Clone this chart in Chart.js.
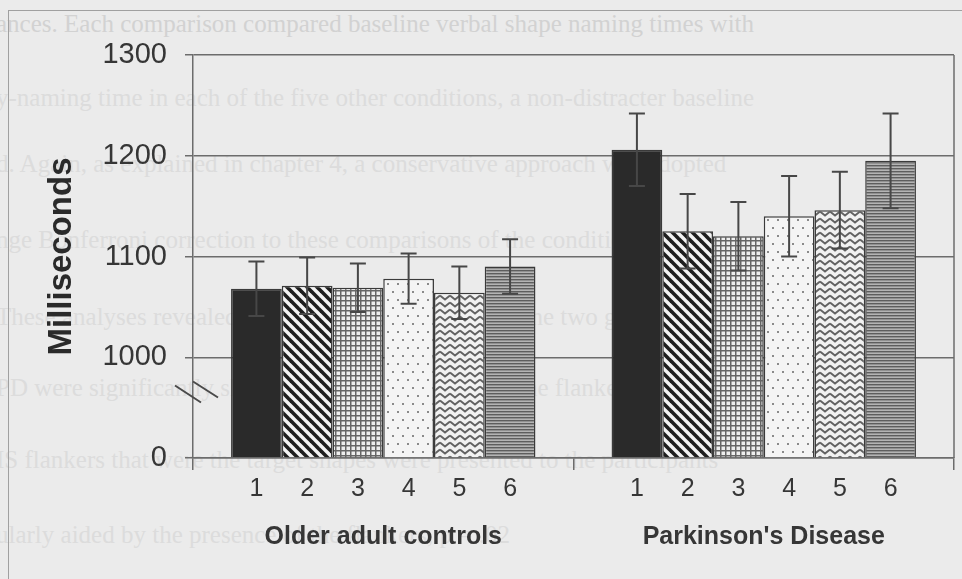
<!DOCTYPE html>
<html>
<head>
<meta charset="utf-8">
<script src="https://cdn.jsdelivr.net/npm/chart.js@4.4.1/dist/chart.umd.min.js"></script>
<style>
  html, body { margin: 0; padding: 0; background: #ebebeb; }
  #wrap { position: relative; width: 962px; height: 579px; overflow: hidden; background: #ebebeb; }
  #bleed { position: absolute; left: 0; top: 0; font-family: "Liberation Serif", serif; font-size: 25px; color: #dcdcdc; white-space: nowrap; }
  #bleed div { position: absolute; left: -4px; }
  #frame { position: absolute; left: 8px; top: 10px; width: 1200px; height: 1200px; border-left: 1px solid #a0a0a0; border-top: 1px solid #a0a0a0; }
  #chart { position: absolute; left: 0; top: 0; }
</style>
</head>
<body>
<div id="wrap">
  <div id="bleed">
    <div style="top:10px;color:#d2d2d2">ances. Each comparison compared baseline verbal shape naming times with</div>
    <div style="top:84px">y-naming time in each of the five other conditions, a non-distracter baseline</div>
    <div style="top:150px">d. Again, as explained in chapter 4, a conservative approach was adopted</div>
    <div style="top:226px">nge Bonferroni correction to these comparisons of the condition means</div>
    <div style="top:303px">These analyses revealed that the verbal responses of the two groups</div>
    <div style="top:374px">PD were significantly slowed relative to baseline in the flanker conditions</div>
    <div style="top:446px">IS flankers that were the target shapes were presented to the participants</div>
    <div style="top:521px">ularly aided by the presence of the flankers, p = .02</div>
  </div>
  <div id="frame"></div>
  <canvas id="chart" width="962" height="579"></canvas>
</div>
<script>
// Data
const groups = ["Older adult controls", "Parkinson's Disease"];
const conditions = ["1", "2", "3", "4", "5", "6"];
const controlMeans = [1068, 1071, 1069, 1078, 1064, 1090];
const controlErr = [27, 28, 24, 25, 26, 27];
const pdMeans = [1206, 1125, 1120, 1140, 1146, 1195];
const pdErr = [36, 37, 34, 40, 38, 47];
const yTickValues = [900, 1000, 1100, 1200, 1300];
const yTickLabels = ["0", "1000", "1100", "1200", "1300"];

const axisGrey = "#6c6c6c";
const textGrey = "#363636";

// Fill patterns for the six conditions
function makePattern(w, h, draw) {
  const c = document.createElement("canvas");
  c.width = w;
  c.height = h;
  const g = c.getContext("2d");
  draw(g, w, h);
  return g.createPattern(c, "repeat");
}

const patterns = [
  "#2a2a2a",
  makePattern(10, 10, (g, w, h) => {
    g.fillStyle = "#f3f3f3";
    g.fillRect(0, 0, w, h);
    g.strokeStyle = "#1e1e1e";
    g.lineWidth = 3.6;
    [-w, 0, w].forEach((o) => {
      g.beginPath();
      g.moveTo(o - 2, -2);
      g.lineTo(o + w + 2, h + 2);
      g.stroke();
    });
  }),
  makePattern(5, 5, (g, w, h) => {
    g.fillStyle = "#eeeeee";
    g.fillRect(0, 0, w, h);
    g.fillStyle = "#666666";
    g.fillRect(0, 0, w, 1.5);
    g.fillRect(0, 0, 1.5, h);
  }),
  makePattern(10, 16, (g, w, h) => {
    g.fillStyle = "#f4f4f4";
    g.fillRect(0, 0, w, h);
    g.fillStyle = "#8a8a8a";
    g.fillRect(2, 3, 2, 2);
    g.fillRect(7, 11, 2, 2);
  }),
  makePattern(10, 7, (g, w, h) => {
    g.fillStyle = "#f1f1f1";
    g.fillRect(0, 0, w, h);
    g.strokeStyle = "#626262";
    g.lineWidth = 1.9;
    g.beginPath();
    g.moveTo(0, 1.5);
    g.lineTo(5, 5.5);
    g.lineTo(10, 1.5);
    g.stroke();
  }),
  makePattern(4, 3, (g, w, h) => {
    g.fillStyle = "#b4b4b4";
    g.fillRect(0, 0, w, h);
    g.fillStyle = "#5e5e5e";
    g.fillRect(0, 0, w, 1.4);
  }),
];

const datasets = conditions.map((label, i) => ({
  label: label,
  data: [controlMeans[i], pdMeans[i]],
  errors: [controlErr[i], pdErr[i]],
  backgroundColor: patterns[i],
  borderColor: "#3a3a3a",
  borderWidth: 1.5,
  borderSkipped: "start",
  base: 900,
  categoryPercentage: 0.8,
  barPercentage: 1.0,
}));

// Error bars, condition numbers, right border and axis break
const extras = {
  id: "extras",
  afterDatasetsDraw(chart) {
    const { ctx, chartArea } = chart;
    const y = chart.scales.y;
    ctx.save();
    ctx.strokeStyle = "#474747";
    ctx.lineWidth = 2;
    chart.data.datasets.forEach((ds, i) => {
      chart.getDatasetMeta(i).data.forEach((bar, j) => {
        const top = y.getPixelForValue(ds.data[j] + ds.errors[j]);
        const bot = y.getPixelForValue(ds.data[j] - ds.errors[j]);
        ctx.beginPath();
        ctx.moveTo(bar.x, top);
        ctx.lineTo(bar.x, bot);
        ctx.moveTo(bar.x - 8, top);
        ctx.lineTo(bar.x + 8, top);
        ctx.moveTo(bar.x - 8, bot);
        ctx.lineTo(bar.x + 8, bot);
        ctx.stroke();
      });
    });

    // right border of the plot
    ctx.strokeStyle = axisGrey;
    ctx.lineWidth = 1.5;
    ctx.beginPath();
    ctx.moveTo(chartArea.right, chartArea.top);
    ctx.lineTo(chartArea.right, chartArea.bottom);
    ctx.stroke();

    // axis break marks
    const bx = chartArea.left;
    const by = y.getPixelForValue(966);
    ctx.strokeStyle = "#4a4a4a";
    ctx.lineWidth = 2;
    ctx.beginPath();
    ctx.moveTo(bx - 18, by - 6);
    ctx.lineTo(bx + 8, by + 11);
    ctx.moveTo(bx, by - 10);
    ctx.lineTo(bx + 25, by + 6);
    ctx.stroke();

    // condition numbers under each bar
    ctx.fillStyle = textGrey;
    ctx.font = "25px 'Liberation Sans', Arial, sans-serif";
    ctx.textAlign = "center";
    ctx.textBaseline = "middle";
    chart.data.datasets.forEach((ds, i) => {
      chart.getDatasetMeta(i).data.forEach((bar) => {
        ctx.fillText(ds.label, bar.x, chartArea.bottom + 31);
      });
    });
    ctx.restore();
  },
};

const ctx = document.getElementById("chart").getContext("2d");
new Chart(ctx, {
  type: "bar",
  data: { labels: groups, datasets: datasets },
  options: {
    responsive: false,
    animation: false,
    layout: { padding: { left: 0, top: 55, right: 8, bottom: 0 } },
    plugins: {
      legend: { display: false },
      tooltip: { enabled: false },
    },
    scales: {
      x: {
        grid: {
          display: true,
          offset: true,
          drawOnChartArea: false,
          color: axisGrey,
          lineWidth: 1.5,
          tickLength: 12,
        },
        border: { display: true, color: axisGrey, width: 1.5 },
        ticks: {
          color: textGrey,
          padding: 52,
          font: { family: "'Liberation Sans', Arial, sans-serif", size: 25, weight: "bold" },
        },
        afterFit(scale) {
          scale.height = 121;
        },
      },
      y: {
        min: 900,
        max: 1300,
        afterBuildTicks(scale) {
          scale.ticks = yTickValues.map((v) => ({ value: v }));
        },
        grid: {
          color: axisGrey,
          lineWidth: 1.5,
          tickLength: 8,
        },
        border: { display: true, color: axisGrey, width: 1.5 },
        ticks: {
          color: textGrey,
          padding: 18,
          font: { family: "'Liberation Sans', Arial, sans-serif", size: 29 },
          callback: (v) => yTickLabels[yTickValues.indexOf(v)],
        },
        title: {
          display: true,
          text: "Milliseconds",
          color: "#2a2a2a",
          padding: { top: 42, bottom: 0 },
          font: { family: "'Liberation Sans', Arial, sans-serif", size: 33, weight: "bold" },
        },
        afterFit(scale) {
          scale.width = 193;
        },
      },
    },
  },
  plugins: [extras],
});
</script>
</body>
</html>
